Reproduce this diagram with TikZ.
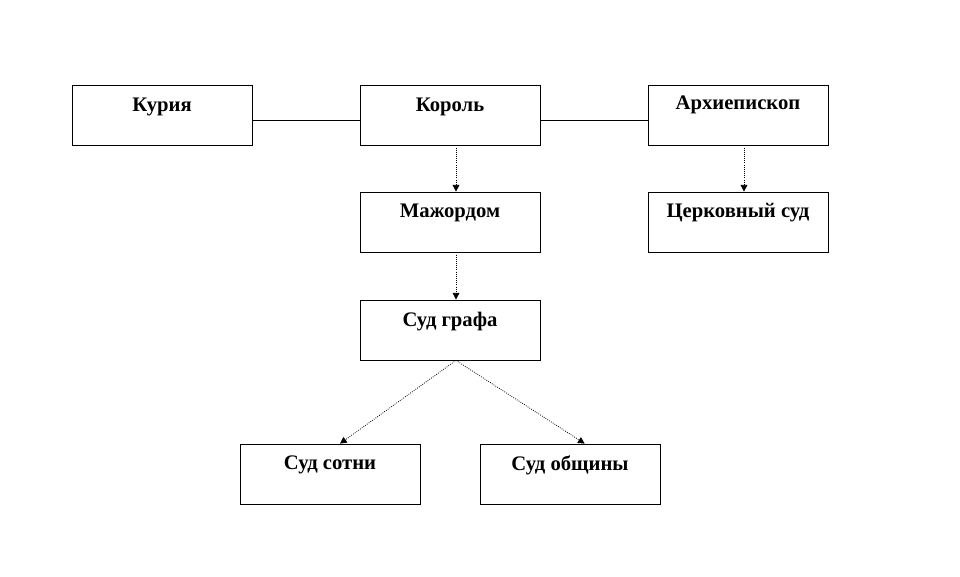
\documentclass[tikz,border=0pt]{standalone}
\usepackage{fontspec}
\setmainfont{Liberation Serif}
\usetikzlibrary{arrows.meta}
\tikzset{
  box/.style={draw,line width=0.6pt,minimum width=135pt,minimum height=45pt,inner sep=0pt},
  title/.style={anchor=north,inner sep=0pt,font=\fontsize{15.5}{17}\selectfont\bfseries},
  link/.style={line width=0.6pt},
  arr/.style={densely dotted,line width=0.6pt,-{Triangle[width=5pt,length=5pt,sep=0pt]}}
}
\begin{document}
\begin{tikzpicture}[x=0.75pt,y=0.75pt,yscale=-1,xscale=1]
\useasboundingbox (0,0) rectangle (960,576);

%Boxes
\node [box] (kuria) at (162,115) {};
\node [box] (korol) at (450,115) {};
\node [box] (arch) at (738,115) {};
\node [box] (major) at (450,222) {};
\node [box] (cerk) at (738,222) {};
\node [box] (graf) at (450,330) {};
\node [box] (sotni) at (330,474) {};
\node [box] (obsh) at (570,474) {};

% Text Node
\node [title] (kuriaT) at ([yshift=9.5pt]kuria.north) {Курия};
\node [title] (korolT) at ([yshift=9.5pt]korol.north) {Король};
\node [title] (archT) at ([yshift=8pt]arch.north) {Архиепископ};
\node [title] (majorT) at ([yshift=9pt]major.north) {Мажордом};
\node [title] (cerkT) at ([yshift=8.5pt]cerk.north) {Церковный суд};
\node [title] (grafT) at ([yshift=9pt]graf.north) {Суд графа};
\node [title] (sotniT) at ([yshift=9pt]sotni.north) {Суд сотни};
\node [title] (obshT) at ([yshift=9pt]obsh.north) {Суд общины};

%Straight Lines
\draw [link] ([yshift=3.75pt]kuria.east) -- ([yshift=3.75pt]korol.west);
\draw [link] ([yshift=3.75pt]korol.east) -- ([yshift=3.75pt]arch.west);

%Arrows
\draw [arr] ([xshift=4.5pt]korol.south) -- ([xshift=4.5pt]major.north);
\draw [arr] ([xshift=4.5pt]arch.south) -- ([xshift=4.5pt]cerk.north);
\draw [arr] ([xshift=4.5pt]major.south) -- ([xshift=4.5pt]graf.north);
\draw [arr] ([xshift=4.5pt]graf.south) -- ([xshift=7.5pt]sotni.north);
\draw [arr] ([xshift=4.5pt]graf.south) -- ([xshift=11pt]obsh.north);

\end{tikzpicture}
\end{document}
